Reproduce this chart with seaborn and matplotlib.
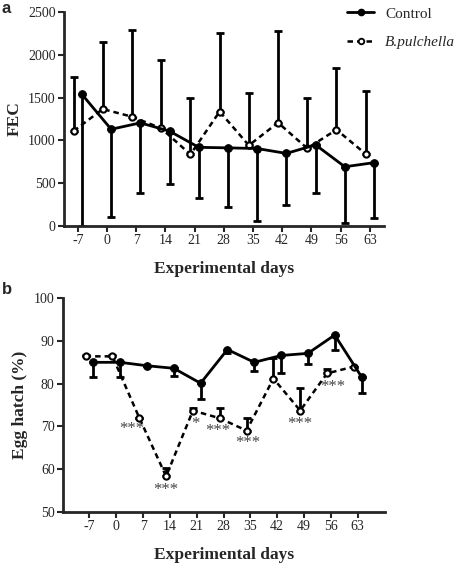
import numpy as np
import pandas as pd
import seaborn as sns
import matplotlib.pyplot as plt
from matplotlib.lines import Line2D

#sampling days
days = [-7, 0, 7, 14, 21, 28, 35, 42, 49, 56, 63]

#panel a: faecal egg counts (control bars point down, B.pulchella bars point up)
fec_control = [1538, 1130, 1205, 1108, 919, 913, 905, 848, 948, 692, 740]
fec_control_low = [0, 108, 382, 491, 330, 220, 64, 242, 389, 40, 95]
fec_bp = [1110, 1366, 1277, 1141, 836, 1337, 942, 1207, 907, 1125, 842]
fec_bp_high = [1736, 2152, 2290, 1940, 1491, 2257, 1557, 2282, 1492, 1845, 1580]

#panel b: egg hatch %
hatch_control = [85.0, 85.0, 84.2, 83.6, 80.1, 88.0, 85.0, 86.6, 87.1, 91.4, 81.6]
hatch_control_low = [81.5, 81.6, 84.2, 81.9, 76.5, 87.2, 83.0, 82.5, 84.5, 88.0, 77.7]
hatch_bp = [86.4, 86.4, 72.0, 58.3, 73.7, 71.9, 69.0, 81.2, 73.7, 82.4, 84.0]
hatch_bp_high = [86.8, 86.8, 72.0, 60.2, 74.3, 74.2, 72.0, 86.0, 78.9, 83.4, 84.0]

#significance stars (day, y, label)
star_days = [4.1, 13.0, 20.6, 26.6, 34.2, 48.0, 56.6]
star_y = [69.4, 55.1, 70.6, 68.8, 66.1, 70.6, 79.2]
star_labels = ['***', '***', '*', '***', '***', '***', '***']

sns.set_style("ticks")
plt.rcParams['font.family'] = ['Liberation Serif', 'DejaVu Serif']
plt.rcParams['axes.linewidth'] = 2

fig = plt.figure(figsize=(4.72, 5.64), dpi=100)
ax_a = fig.add_axes([0.1356, 0.5993, 0.678, 0.3794])
ax_b = fig.add_axes([0.1335, 0.0927, 0.682, 0.3784])

shift = 1.0
df_a = pd.DataFrame({'day': days, 'control': fec_control, 'bp': fec_bp})
df_b = pd.DataFrame({'day': days, 'control': hatch_control, 'bp': hatch_bp})


def draw_panel(ax, df, c_low, b_high):
    xc = df['day'] + shift
    xb = df['day'] - shift
    #error bars first so markers sit on top
    ax.errorbar(xc, df['control'], yerr=[df['control'] - np.array(c_low), np.zeros(len(df))],
                fmt='none', ecolor='black', elinewidth=2, capsize=3, capthick=2, zorder=2)
    ax.errorbar(xb, df['bp'], yerr=[np.zeros(len(df)), np.array(b_high) - df['bp']],
                fmt='none', ecolor='black', elinewidth=2, capsize=3, capthick=2, zorder=2)
    sns.lineplot(x=xb, y=df['bp'], ax=ax, color='black', linewidth=1.8, linestyle=(0, (2.2, 1.6)),
                 marker='o', markersize=4.5, markerfacecolor='white', markeredgecolor='black',
                 markeredgewidth=1.5, zorder=3)
    sns.lineplot(x=xc, y=df['control'], ax=ax, color='black', linewidth=2, marker='o',
                 markersize=5.5, markerfacecolor='black', markeredgecolor='black', zorder=4)
    ax.set_xticks(days)
    ax.set_xticklabels([str(v) for v in days])
    ax.tick_params(axis='both', direction='out', length=4, width=1.5, labelsize=10, pad=2)
    ax.set_xlabel('Experimental days', fontsize=12.5, fontweight='bold', labelpad=10)
    sns.despine(ax=ax)


draw_panel(ax_a, df_a, fec_control_low, fec_bp_high)
ax_a.set_xlim(-10.3, 66.4)
ax_a.set_ylim(0, 2500)
ax_a.set_yticks([0, 500, 1000, 1500, 2000, 2500])
ax_a.set_ylabel('FEC', fontsize=12.5, fontweight='bold', labelpad=4)

draw_panel(ax_b, df_b, hatch_control_low, hatch_bp_high)
ax_b.set_xlim(-13.9, 70.1)
ax_b.set_ylim(50, 100)
ax_b.set_yticks([50, 60, 70, 80, 90, 100])
ax_b.set_ylabel('Egg hatch (%)', fontsize=12.5, fontweight='bold', labelpad=4)

for x, y, s in zip(star_days, star_y, star_labels):
    ax_b.text(x, y, s, ha='center', va='center', fontsize=12, color='#444444')

#legend
handles = [
    Line2D([0], [0], color='black', linewidth=2, marker='o', markersize=4.5, markerfacecolor='black'),
    Line2D([0], [0], color='black', linewidth=1.8, linestyle=(0, (2.2, 1.6)), marker='o', markersize=4,
           markerfacecolor='white', markeredgewidth=1.3),
]
leg = fig.legend(handles, ['Control', 'B.pulchella'], loc='upper left', bbox_to_anchor=(0.706, 1.012),
                 frameon=False, fontsize=11, handlelength=1.8, handletextpad=0.7, labelspacing=0.95)
leg.get_texts()[1].set_fontstyle('italic')

fig.text(0.004, 0.998, 'a', fontsize=12, fontweight='bold', va='top', family='Liberation Sans')
fig.text(0.004, 0.5, 'b', fontsize=12, fontweight='bold', va='top', family='Liberation Sans')

fig.savefig('out.png', dpi=100)
